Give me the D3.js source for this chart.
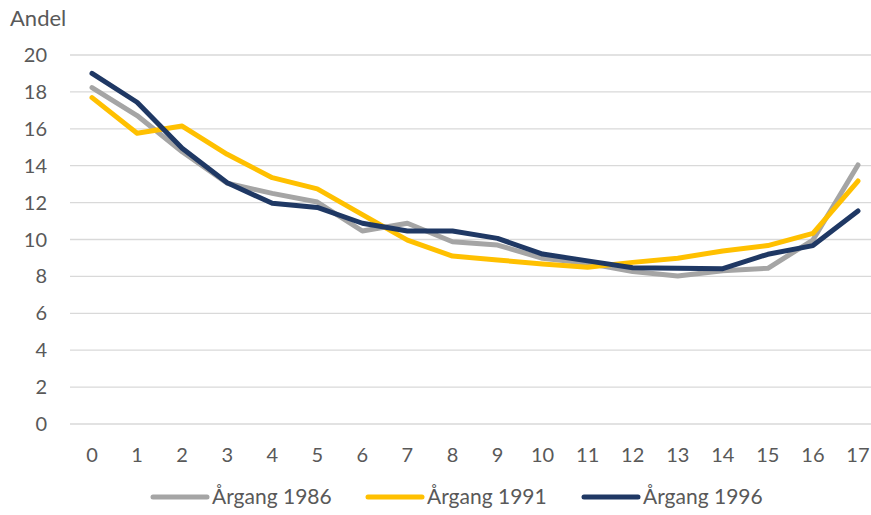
<!DOCTYPE html>
<html>
<head>
<meta charset="utf-8">
<script src="https://cdn.jsdelivr.net/npm/d3@7"></script>
<style>
  body { margin: 0; background: #fff; }
  svg text { font-family: Lato, "Open Sans", sans-serif; fill: #595959; }
</style>
</head>
<body>
<svg width="871" height="515"></svg>
<script>
const ages = d3.range(0, 18).map(String);
const yTicks = [0, 2, 4, 6, 8, 10, 12, 14, 16, 18, 20];

const seriesNames = ["Årgang 1986", "Årgang 1991", "Årgang 1996"];
const values1986 = [18.23, 16.72, 14.76, 13.05, 12.5, 12.03, 10.46, 10.88, 9.88, 9.7, 8.98, 8.71, 8.26, 8.02, 8.31, 8.44, 9.97, 14.04];
const values1991 = [17.69, 15.76, 16.15, 14.62, 13.35, 12.74, 11.35, 9.97, 9.1, 8.89, 8.67, 8.5, 8.76, 8.98, 9.38, 9.67, 10.33, 13.17];
const values1996 = [19.0, 17.44, 14.94, 13.08, 11.96, 11.74, 10.88, 10.46, 10.46, 10.06, 9.21, 8.84, 8.47, 8.44, 8.42, 9.2, 9.67, 11.55];
const colors = ["#A5A5A5", "#FFC000", "#1F3864"];

const svg = d3.select("svg");

const x = d3.scaleBand()
  .domain(ages)
  .range([69.5, 880.5]);

const y = d3.scaleLinear()
  .domain([0, 20])
  .range([424, 55]);

// gridlines
svg.append("g")
  .selectAll("line")
  .data(yTicks)
  .enter()
  .append("line")
  .attr("x1", 70)
  .attr("x2", 871)
  .attr("y1", d => y(d))
  .attr("y2", d => y(d))
  .attr("stroke", "#D9D9D9")
  .attr("stroke-width", 1.3);

// y tick labels
svg.append("g")
  .selectAll("text")
  .data(yTicks)
  .enter()
  .append("text")
  .attr("x", 47)
  .attr("y", d => y(d))
  .attr("dy", "0.35em")
  .attr("text-anchor", "end")
  .attr("font-size", 20)
  .text(d => d);

// x tick labels
svg.append("g")
  .selectAll("text")
  .data(ages)
  .enter()
  .append("text")
  .attr("x", d => x(d) + x.bandwidth() / 2)
  .attr("y", 455)
  .attr("dy", "0.35em")
  .attr("text-anchor", "middle")
  .attr("font-size", 20)
  .text(d => d);

svg.append("text")
  .attr("x", 10)
  .attr("y", 26)
  .attr("font-size", 22)
  .text("Andel");

const line = d3.line()
  .x((d, i) => x(ages[i]) + x.bandwidth() / 2)
  .y(d => y(d));

const allSeries = [values1986, values1991, values1996];

svg.append("g")
  .selectAll("path")
  .data(allSeries)
  .enter()
  .append("path")
  .attr("d", line)
  .attr("fill", "none")
  .attr("stroke", (d, i) => colors[i])
  .attr("stroke-width", 5)
  .attr("stroke-linejoin", "round")
  .attr("stroke-linecap", "round");

// legend
const legendX = [153, 368, 584];
const legend = svg.append("g")
  .selectAll("g")
  .data(seriesNames)
  .enter()
  .append("g")
  .attr("transform", (d, i) => `translate(${legendX[i]},497)`);

legend.append("line")
  .attr("x1", 0)
  .attr("x2", 54)
  .attr("stroke", (d, i) => colors[i])
  .attr("stroke-width", 5)
  .attr("stroke-linecap", "round");

legend.append("text")
  .attr("x", 59)
  .attr("dy", "0.35em")
  .attr("font-size", 21)
  .text(d => d);
</script>
</body>
</html>
